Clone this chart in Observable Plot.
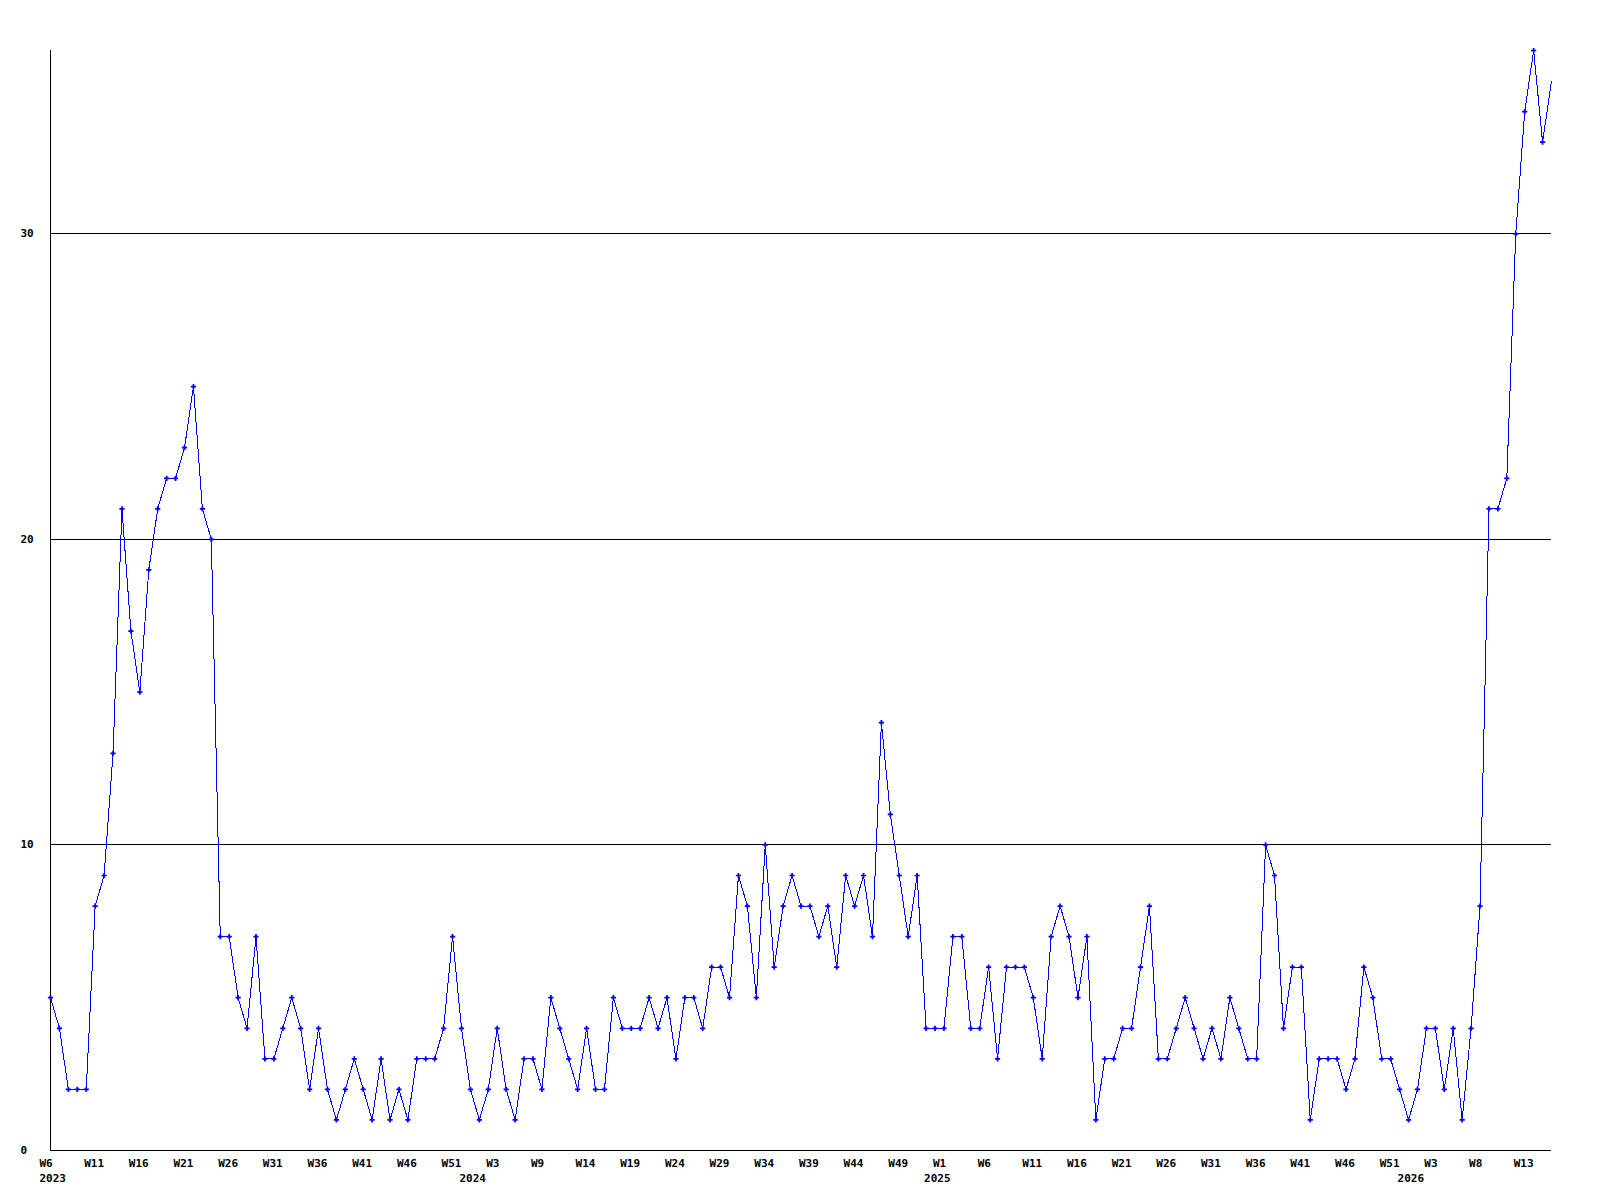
<!DOCTYPE html>
<html>
<head>
<meta charset="utf-8">
<style>
  html, body { margin: 0; padding: 0; background: #ffffff; }
  #chart svg { display: block; }
</style>
<script src="https://cdn.jsdelivr.net/npm/d3@7"></script>
<script src="https://cdn.jsdelivr.net/npm/@observablehq/plot@0.6"></script>
</head>
<body>
<div id="chart"></div>
<script>
// Weekly counts, one per week, starting at 2023 W6
const counts = [
  5, 4, 2, 2, 2, 8, 9, 13, 21, 17, 15, 19, 21, 22, 22, 23, 25, 21, 20, 7,
  7, 5, 4, 7, 3, 3, 4, 5, 4, 2, 4, 2, 1, 2, 3, 2, 1, 3, 1, 2,
  1, 3, 3, 3, 4, 7, 4, 2, 1, 2, 4, 2, 1, 3, 3, 2, 5, 4, 3, 2,
  4, 2, 2, 5, 4, 4, 4, 5, 4, 5, 3, 5, 5, 4, 6, 6, 5, 9, 8, 5,
  10, 6, 8, 9, 8, 8, 7, 8, 6, 9, 8, 9, 7, 14, 11, 9, 7, 9, 4, 4,
  4, 7, 7, 4, 4, 6, 3, 6, 6, 6, 5, 3, 7, 8, 7, 5, 7, 1, 3, 3,
  4, 4, 6, 8, 3, 3, 4, 5, 4, 3, 4, 3, 5, 4, 3, 3, 10, 9, 4, 6,
  6, 1, 3, 3, 3, 2, 3, 6, 5, 3, 3, 2, 1, 2, 4, 4, 2, 4, 1, 4,
  8, 21, 21, 22, 30, 34, 36, 33, 35
];

// Week tick labels, one every 5 weeks starting at the first week
const weekTickLabels = [
  "W6", "W11", "W16", "W21", "W26", "W31", "W36", "W41", "W46", "W51",
  "W3", "W9", "W14", "W19", "W24", "W29", "W34", "W39", "W44", "W49",
  "W1", "W6", "W11", "W16", "W21", "W26", "W31", "W36", "W41", "W46",
  "W51", "W3", "W8", "W13"
];
const weekTickStep = 5;

// Year labels and the week (counted from the first week) where each year starts
const yearLabels = ["2023", "2024", "2025", "2026"];
const yearStartWeeks = [0, 47, 99, 152];

const yGridValues = [10, 20, 30];
const yTickValues = [0, 10, 20, 30];

const data = counts.map((v, i) => ({ i, v }));
const weekTicks = weekTickLabels.map((label, k) => ({ i: k * weekTickStep, label }));
const yearTicks = yearLabels.map((label, k) => ({ i: yearStartWeeks[k], label }));

const chart = Plot.plot({
  width: 1600,
  height: 1200,
  marginLeft: 50,
  marginRight: 49,
  marginTop: 50,
  marginBottom: 50,
  style: {
    fontFamily: "'DejaVu Sans Mono', monospace",
    fontSize: "11px",
    fontWeight: "bold",
    background: "#ffffff",
    color: "#000000"
  },
  x: { domain: [0, counts.length - 1], axis: null },
  y: { domain: [0, 36], axis: null },
  marks: [
    Plot.ruleY(yGridValues, { stroke: "#000000", strokeWidth: 1, shapeRendering: "crispEdges" }),
    Plot.ruleY([0], { stroke: "#000000", strokeWidth: 1, shapeRendering: "crispEdges" }),
    Plot.ruleX([0], { stroke: "#000000", strokeWidth: 1, shapeRendering: "crispEdges" }),
    Plot.line(data, { x: "i", y: "v", stroke: "#0000ff", strokeWidth: 1, shapeRendering: "crispEdges" }),
    Plot.dot(data.slice(0, -1), { x: "i", y: "v", symbol: "cross", r: 2.2, fill: "#0000ff", stroke: "none" }),
    Plot.text(yTickValues, {
      y: d => d, text: d => String(d), frameAnchor: "left", dx: -30,
      textAnchor: "start", lineAnchor: "middle", fill: "#000000"
    }),
    Plot.text(weekTicks, {
      x: "i", text: "label", frameAnchor: "bottom", dy: 16, dx: -11,
      textAnchor: "start", lineAnchor: "bottom", fill: "#000000"
    }),
    Plot.text(yearTicks, {
      x: "i", text: "label", frameAnchor: "bottom", dy: 31, dx: -11,
      textAnchor: "start", lineAnchor: "bottom", fill: "#000000"
    })
  ]
});

document.getElementById("chart").appendChild(chart);
</script>
</body>
</html>
